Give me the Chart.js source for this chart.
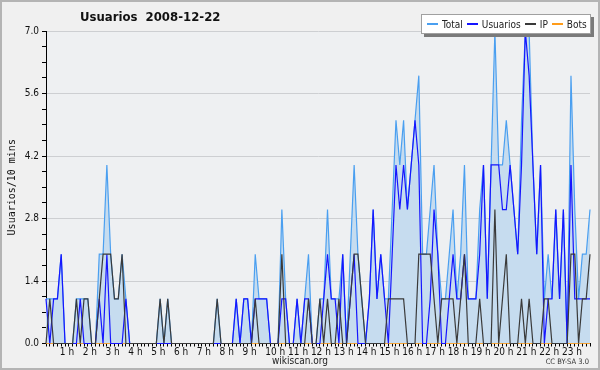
<!DOCTYPE html>
<html>
<head>
<meta charset="utf-8">
<script src="https://cdn.jsdelivr.net/npm/chart.js@4.4.1/dist/chart.umd.min.js"></script>
<style>
  html, body { margin: 0; padding: 0; background: #f0f0f0; }
  #wrap { position: relative; width: 600px; height: 370px; background: #f0f0f0; overflow: hidden; }
  #c { position: absolute; left: 0; top: 0; }
  #frame { position: absolute; left: 0; top: 0; width: 600px; height: 370px; box-sizing: border-box; border: 2px solid #b4b4b4; pointer-events: none; }
  #title { position: absolute; left: 80px; top: 9px; font: bold 13px "DejaVu Sans Condensed", "DejaVu Sans", sans-serif; white-space: pre; color: #111; }
  #legend { position: absolute; left: 421px; top: 14px; height: 18px; padding: 0 3px 0 5px; background: #fff; border: 1px solid #a0a0a0; box-shadow: 3px 3px 0 #7a7a7a; display: flex; align-items: center; font: 10px "DejaVu Sans Condensed", "DejaVu Sans", sans-serif; color: #222; white-space: nowrap; }
  #legend .it { display: flex; align-items: center; margin-right: 4px; }
  #legend .it:last-child { margin-right: 0; }
  #legend .sw { width: 11px; height: 1.5px; margin-right: 4px; }
  #site { position: absolute; left: 0; width: 600px; top: 355px; text-align: center; font: 10px "DejaVu Sans Condensed", "DejaVu Sans", sans-serif; color: #222; }
  #lic { position: absolute; right: 11px; top: 357px; font: 7.5px "DejaVu Sans Condensed", "DejaVu Sans", sans-serif; color: #333; }
</style>
</head>
<body>
<div id="wrap">
  <canvas id="c" width="600" height="370"></canvas>
  <div id="title">Usuarios  2008-12-22</div>
  <div id="legend"></div>
  <div id="site">wikiscan.org</div>
  <div id="lic">CC BY-SA 3.0</div>
  <div id="frame"></div>
</div>
<script>
// 10 minute slots, one day
const slots = [];
for (let h = 0; h < 24; h++) for (let m = 0; m < 60; m += 10) slots.push(String(h).padStart(2, "0") + ":" + String(m).padStart(2, "0"));

const hourLabels = ["1 h","2 h","3 h","4 h","5 h","6 h","7 h","8 h","9 h","10 h","11 h","12 h",
  "13 h","14 h","15 h","16 h","17 h","18 h","19 h","20 h","21 h","22 h","23 h"];

const total = [
  1,1,1,1,2,0,0,0,1,1, 1,1,0,0,2,2,4,2,1,1, 2,1,0,0,0,0,0,0,0,0,
  1,0,1,0,0,0,0,0,0,0, 0,0,0,0,0,1,0,0,0,0, 1,0,1,1,0,2,1,1,1,0,
  0,0,3,1,0,0,1,0,1,2, 0,0,1,1,3,1,1,1,2,0, 2,4,2,1,0,1,3,1,2,1,
  1,3,5,4,5,3,4,5,6,2, 2,3,4,2,1,1,2,3,1,2, 4,1,1,1,3,4,1,4,7,4,
  4,5,4,3,2,5,7,7,4,2, 4,1,2,1,3,1,3,0,6,3, 1,2,2,3
];
const users = [
  1,0,1,1,2,0,0,0,0,1, 0,0,0,0,1,0,2,0,0,0, 0,1,0,0,0,0,0,0,0,0,
  0,0,0,0,0,0,0,0,0,0, 0,0,0,0,0,0,0,0,0,0, 1,0,1,1,0,1,1,1,1,0,
  0,0,1,1,0,0,1,0,1,1, 0,0,0,1,2,1,1,0,2,0, 1,2,0,0,0,1,3,1,2,1,
  0,2,4,3,4,3,4,5,4,0, 0,1,3,2,0,0,1,2,1,1, 2,1,1,1,2,4,1,4,4,4,
  3,3,4,3,2,4,7,6,4,2, 4,0,1,1,3,1,3,0,4,1, 1,1,1,1
];
const ips = [
  0,1,0,0,0,0,0,0,1,0, 1,1,0,0,1,2,2,2,1,1, 2,0,0,0,0,0,0,0,0,0,
  1,0,1,0,0,0,0,0,0,0, 0,0,0,0,0,1,0,0,0,0, 0,0,0,0,0,1,0,0,0,0,
  0,0,2,0,0,0,0,0,0,1, 0,0,1,0,1,0,0,1,0,0, 1,2,2,1,0,0,0,0,0,0,
  1,1,1,1,1,0,0,0,2,2, 2,2,1,0,1,1,1,1,0,1, 2,0,0,0,1,0,0,0,3,0,
  1,2,0,0,0,1,0,1,0,0, 0,1,1,0,0,0,0,0,2,2, 0,1,1,2
];
const bots = [
  0,0,0,0,0,0,0,0,0,0, 0,0,0,0,0,0,0,0,0,0, 0,0,0,0,0,0,0,0,0,0,
  0,0,0,0,0,0,0,0,0,0, 0,0,0,0,0,0,0,0,0,0, 0,0,0,0,0,0,0,0,0,0,
  0,0,0,0,0,0,0,0,0,0, 0,0,0,0,0,0,0,0,0,0, 0,0,0,0,0,0,0,0,0,0,
  0,0,0,0,0,0,0,0,0,0, 0,0,0,0,0,0,0,0,0,0, 0,0,0,0,0,0,0,0,0,0,
  0,0,0,0,0,0,0,0,0,0, 0,0,0,0,0,0,0,0,0,0, 0,0,0,0
];

const COLORS = {
  total: "#4a9ff0",
  totalFill: "#c6dcef",
  users: "#1515ff",
  ip: "#3a3a3a",
  bots: "#ff9c1a",
  grid: "#cdcfd2",
  plot: "#eef0f2",
  page: "#f0f0f0"
};
const FONT = '"DejaVu Sans Condensed", "DejaVu Sans", sans-serif';

function lineSeries(label, data, color, order) {
  return { label, data, borderColor: color, backgroundColor: color, borderWidth: 1.2, pointRadius: 0, tension: 0, fill: false, order, clip: 2 };
}

const datasets = [
  { ...lineSeries("Total", total, COLORS.total, 3), fill: "origin", backgroundColor: COLORS.totalFill },
  lineSeries("Usuarios", users, COLORS.users, 2),
  lineSeries("IP", ips, COLORS.ip, 1),
  { ...lineSeries("Bots", bots, COLORS.bots, 4), borderWidth: 1 }
];

const plotBg = {
  id: "plotBg",
  beforeDraw(chart) {
    const { ctx, chartArea: a } = chart;
    ctx.save();
    ctx.fillStyle = COLORS.page;
    ctx.fillRect(0, 0, chart.width, chart.height);
    ctx.fillStyle = COLORS.plot;
    ctx.fillRect(a.left, a.top, a.right - a.left, a.bottom - a.top);
    ctx.restore();
  }
};

new Chart(document.getElementById("c"), {
  type: "line",
  data: { labels: slots, datasets },
  options: {
    responsive: false,
    animation: false,
    layout: { padding: { top: 31, right: 10, left: 0, bottom: 0 } },
    plugins: { legend: { display: false }, title: { display: false }, tooltip: { enabled: false } },
    scales: {
      x: {
        type: "category",
        offset: false,
        z: 1,
        grid: { drawOnChartArea: false, color: "#000", tickLength: 3, offset: false },
        border: { color: "#000", width: 1 },
        ticks: {
          autoSkip: false, maxRotation: 0, minRotation: 0, padding: 0,
          align: "start", labelOffset: -9,
          color: "#111", font: { family: FONT, size: 10 },
          callback: (v, i) => (i % 6 === 0 && i > 0 ? hourLabels[i / 6 - 1] : "")
        },
        afterFit: s => { s.height = 26.5; }
      },
      y: {
        min: 0, max: 7,
        grid: { color: c => (c.index % 4 === 0 ? COLORS.grid : "rgba(0,0,0,0)"), tickColor: "#000", tickLength: 4 },
        border: { color: "#000", width: 1 },
        ticks: {
          stepSize: 0.35, autoSkip: false, padding: 3,
          color: "#111", font: { family: FONT, size: 10 },
          callback: (v, i) => (i % 4 === 0 ? Number(v).toFixed(1) : "")
        },
        title: { display: true, text: "Usuarios/10 mins", color: "#111", font: { family: '"DejaVu Sans Mono", monospace', size: 10 }, padding: { top: 6, bottom: 0 } },
        afterFit: s => { s.width = 46; }
      }
    }
  },
  plugins: [plotBg]
});

const legend = document.getElementById("legend");
datasets.forEach(d => {
  const it = document.createElement("div");
  it.className = "it";
  const sw = document.createElement("span");
  sw.className = "sw";
  sw.style.background = d.borderColor;
  it.appendChild(sw);
  it.appendChild(document.createTextNode(d.label));
  legend.appendChild(it);
});
</script>
</body>
</html>
